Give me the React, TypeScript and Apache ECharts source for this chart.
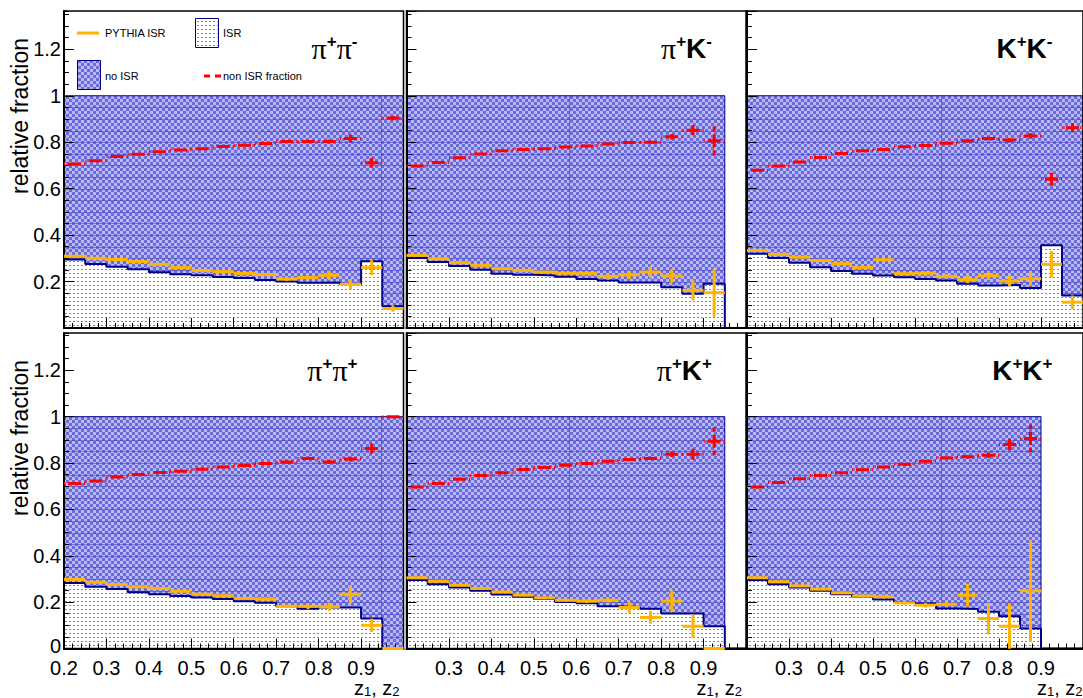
import React, { useEffect, useRef } from 'react';
import * as echarts from 'echarts';

// ---------- binning ----------
const BIN_CENTERS = [0.225, 0.275, 0.325, 0.375, 0.425, 0.475, 0.525, 0.575, 0.625, 0.675, 0.725, 0.775, 0.825, 0.875, 0.925, 0.975];
const BIN_HALF = 0.025;
const X_MIN = 0.2;
const X_MAX = 1.0;
const STACK_TOTAL = 1; // ISR + no ISR = 1
const FILL_LINE_STEP = 0.05; // faint rendering lines seen inside the "no ISR" fill
const FILL_SEAM_X = [0.948, 0.583, 0.661, 0.948, 0.583, 0.661];

// ---------- panel titles ----------
const PANEL_PARTS = [
  ['pi', '+', 'pi', '-'],
  ['pi', '+', 'K', '-'],
  ['K', '+', 'K', '-'],
  ['pi', '+', 'pi', '+'],
  ['pi', '+', 'K', '+'],
  ['K', '+', 'K', '+'],
];

// ---------- pi+ pi- ----------
const isrPiPiM = [0.295, 0.276, 0.264, 0.253, 0.240, 0.231, 0.227, 0.220, 0.215, 0.207, 0.200, 0.195, 0.196, 0.190, 0.287, 0.094];
const pythiaPiPiM = [0.309, 0.300, 0.295, 0.286, 0.274, 0.260, 0.248, 0.243, 0.235, 0.230, 0.211, 0.217, 0.227, 0.188, 0.260, 0.084];
const pythiaErrPiPiM = [0.003, 0.003, 0.003, 0.003, 0.004, 0.004, 0.004, 0.005, 0.006, 0.007, 0.009, 0.010, 0.020, 0.023, 0.032, 0.014];
const nonIsrPiPiM = [0.706, 0.720, 0.738, 0.748, 0.759, 0.767, 0.772, 0.781, 0.787, 0.794, 0.803, 0.803, 0.803, 0.816, 0.712, 0.904];
const nonIsrErrPiPiM = [0.003, 0.003, 0.003, 0.003, 0.003, 0.003, 0.003, 0.004, 0.004, 0.005, 0.006, 0.007, 0.009, 0.017, 0.021, 0.010];

// ---------- pi+ K- ----------
const isrPiKM = [0.301, 0.284, 0.267, 0.251, 0.234, 0.229, 0.226, 0.221, 0.211, 0.205, 0.196, 0.196, 0.176, 0.147, 0.191, 0];
const pythiaPiKM = [0.313, 0.298, 0.281, 0.270, 0.255, 0.248, 0.241, 0.236, 0.236, 0.222, 0.229, 0.241, 0.224, 0.162, 0.152];
const pythiaErrPiKM = [0.003, 0.003, 0.003, 0.004, 0.004, 0.004, 0.005, 0.006, 0.008, 0.014, 0.018, 0.025, 0.029, 0.043, 0.104];
const nonIsrPiKM = [0.698, 0.713, 0.733, 0.749, 0.763, 0.769, 0.772, 0.779, 0.784, 0.792, 0.799, 0.800, 0.823, 0.852, 0.806];
const nonIsrErrPiKM = [0.003, 0.003, 0.003, 0.003, 0.003, 0.003, 0.003, 0.004, 0.004, 0.005, 0.005, 0.006, 0.012, 0.022, 0.063];

// ---------- K+ K- ----------
const isrKKM = [0.320, 0.301, 0.281, 0.262, 0.245, 0.234, 0.226, 0.219, 0.211, 0.205, 0.191, 0.183, 0.185, 0.172, 0.356, 0.140];
const pythiaKKM = [0.334, 0.317, 0.305, 0.291, 0.277, 0.260, 0.294, 0.234, 0.236, 0.222, 0.208, 0.225, 0.202, 0.212, 0.274, 0.111];
const pythiaErrKKM = [0.003, 0.003, 0.004, 0.004, 0.004, 0.005, 0.005, 0.006, 0.008, 0.010, 0.015, 0.018, 0.022, 0.030, 0.057, 0.029];
const nonIsrKKM = [0.679, 0.698, 0.715, 0.734, 0.751, 0.763, 0.769, 0.780, 0.786, 0.795, 0.806, 0.816, 0.809, 0.827, 0.641, 0.862];
const nonIsrErrKKM = [0.003, 0.003, 0.003, 0.003, 0.003, 0.004, 0.004, 0.004, 0.005, 0.005, 0.006, 0.008, 0.009, 0.012, 0.040, 0.020];

// ---------- pi+ pi+ ----------
const isrPiPiP = [0.283, 0.266, 0.257, 0.243, 0.234, 0.227, 0.220, 0.213, 0.204, 0.197, 0.182, 0.172, 0.177, 0.177, 0.129, 0];
const pythiaPiPiP = [0.298, 0.286, 0.276, 0.266, 0.259, 0.247, 0.234, 0.227, 0.216, 0.213, 0.182, 0.182, 0.180, 0.234, 0.100, 0];
const pythiaErrPiPiP = [0.003, 0.003, 0.003, 0.003, 0.004, 0.004, 0.005, 0.005, 0.006, 0.007, 0.008, 0.012, 0.018, 0.040, 0.029, 0];
const nonIsrPiPiP = [0.712, 0.723, 0.740, 0.751, 0.759, 0.765, 0.773, 0.783, 0.789, 0.798, 0.805, 0.820, 0.805, 0.817, 0.863, 1.000];
const nonIsrErrPiPiP = [0.003, 0.003, 0.003, 0.003, 0.003, 0.003, 0.003, 0.004, 0.004, 0.005, 0.006, 0.007, 0.008, 0.010, 0.022, 0.003];

// ---------- pi+ K+ ----------
const isrPiKP = [0.295, 0.277, 0.263, 0.249, 0.233, 0.223, 0.213, 0.201, 0.195, 0.182, 0.179, 0.172, 0.151, 0.151, 0.096, 0];
const pythiaPiKP = [0.305, 0.290, 0.273, 0.259, 0.244, 0.230, 0.218, 0.208, 0.204, 0.208, 0.177, 0.134, 0.204, 0.096, 0];
const pythiaErrPiKP = [0.003, 0.003, 0.003, 0.003, 0.004, 0.004, 0.005, 0.006, 0.008, 0.010, 0.025, 0.027, 0.047, 0.050, 0];
const nonIsrPiKP = [0.697, 0.712, 0.730, 0.746, 0.758, 0.772, 0.781, 0.791, 0.798, 0.808, 0.815, 0.820, 0.838, 0.838, 0.894];
const nonIsrErrPiKP = [0.003, 0.003, 0.003, 0.003, 0.003, 0.003, 0.004, 0.004, 0.004, 0.005, 0.006, 0.007, 0.012, 0.024, 0.060];

// ---------- K+ K+ ----------
const isrKKP = [0.295, 0.277, 0.263, 0.249, 0.234, 0.223, 0.211, 0.201, 0.194, 0.173, 0.170, 0.158, 0.139, 0.086, 0, 0];
const pythiaKKP = [0.305, 0.288, 0.270, 0.256, 0.240, 0.226, 0.223, 0.197, 0.187, 0.191, 0.230, 0.129, 0.096, 0.249];
const pythiaErrKKP = [0.003, 0.003, 0.003, 0.004, 0.005, 0.006, 0.007, 0.008, 0.010, 0.012, 0.049, 0.068, 0.097, 0.220];
const nonIsrKKP = [0.697, 0.716, 0.732, 0.746, 0.758, 0.771, 0.783, 0.795, 0.808, 0.822, 0.827, 0.834, 0.880, 0.906];
const nonIsrErrKKP = [0.003, 0.003, 0.003, 0.003, 0.003, 0.004, 0.004, 0.005, 0.005, 0.006, 0.007, 0.012, 0.024, 0.060];

const PANELS = [
  { isr: isrPiPiM, pythia: pythiaPiPiM, pythiaErr: pythiaErrPiPiM, nonIsr: nonIsrPiPiM, nonIsrErr: nonIsrErrPiPiM },
  { isr: isrPiKM, pythia: pythiaPiKM, pythiaErr: pythiaErrPiKM, nonIsr: nonIsrPiKM, nonIsrErr: nonIsrErrPiKM },
  { isr: isrKKM, pythia: pythiaKKM, pythiaErr: pythiaErrKKM, nonIsr: nonIsrKKM, nonIsrErr: nonIsrErrKKM },
  { isr: isrPiPiP, pythia: pythiaPiPiP, pythiaErr: pythiaErrPiPiP, nonIsr: nonIsrPiPiP, nonIsrErr: nonIsrErrPiPiP },
  { isr: isrPiKP, pythia: pythiaPiKP, pythiaErr: pythiaErrPiKP, nonIsr: nonIsrPiKP, nonIsrErr: nonIsrErrPiKP },
  { isr: isrKKP, pythia: pythiaKKP, pythiaErr: pythiaErrKKP, nonIsr: nonIsrKKP, nonIsrErr: nonIsrErrKKP },
];

// ---------- layout / style ----------
const COL_LEFT = [64, 406.5, 747];
const COL_WIDTH = 339.5;
const ROW_TOP = [11, 333];
const ROW_HEIGHT = [317, 315.5];
const Y_MAX = [1.365, 1.361];
const LABEL_RIGHT_INSET = [46, 40, 40];
const FONT = 'Liberation Sans, Arial, sans-serif';
const NAVY = '#00008c';
const ORANGE = '#ffb400';
const RED = '#ff0000';
const CHECK_DARK = '#6a6ad9';
const CHECK_LIGHT = '#b9b9ef';
const DOT = '#7a7aff';
const FILL_LINE = 'rgba(60,60,200,0.55)';

function makeChecker() {
  const c = document.createElement('canvas');
  c.width = 6; c.height = 6;
  const g = c.getContext('2d')!;
  g.fillStyle = CHECK_LIGHT; g.fillRect(0, 0, 6, 6);
  g.fillStyle = CHECK_DARK; g.fillRect(0, 0, 3, 3); g.fillRect(3, 3, 3, 3);
  return { image: c, repeat: 'repeat', imageWidth: 6, imageHeight: 6 };
}
function makeDots() {
  const c = document.createElement('canvas');
  c.width = 4; c.height = 4;
  const g = c.getContext('2d')!;
  g.fillStyle = '#ffffff'; g.fillRect(0, 0, 4, 4);
  g.fillStyle = DOT; g.fillRect(1, 1, 2, 1);
  return { image: c, repeat: 'repeat', imageWidth: 4, imageHeight: 4 };
}

export default function App() {
  const ref = useRef<HTMLDivElement>(null);
  useEffect(() => {
    const chart = echarts.init(ref.current!, null, { renderer: 'svg' });
    const checker = makeChecker();
    const dots = makeDots();

    const grids: any[] = [];
    const xAxes: any[] = [];
    const yAxes: any[] = [];
    const series: any[] = [];
    const graphics: any[] = [];

    PANELS.forEach((pd, p) => {
      const row = Math.floor(p / 3);
      const col = p % 3;
      grids.push({
        left: COL_LEFT[col], top: ROW_TOP[row], width: COL_WIDTH, height: ROW_HEIGHT[row],
        show: true, borderColor: '#000', borderWidth: 1.5, backgroundColor: 'transparent', z: 5,
      });
      const bottomRow = row === 1;
      xAxes.push({
        gridIndex: p, type: 'value', min: X_MIN, max: X_MAX, interval: 0.1, position: 'bottom', z: 5,
        axisLine: { show: true, onZero: false, lineStyle: { color: '#000', width: 2 } },
        axisTick: { show: true, inside: true, length: 10, lineStyle: { color: '#000', width: 1 } },
        axisLabel: {
          show: bottomRow, margin: 11, color: '#000', fontFamily: FONT, fontSize: 20, lineHeight: 16,
          showMinLabel: col === 0, showMaxLabel: false,
        },
        splitLine: { show: false },
      });
      xAxes.push({
        gridIndex: p, type: 'value', min: X_MIN, max: X_MAX, interval: 0.02, position: 'bottom', z: 5,
        axisLine: { show: false, onZero: false },
        axisTick: { show: true, inside: true, length: 5, lineStyle: { color: '#000', width: 1 } },
        axisLabel: { show: false },
        splitLine: { show: false },
      });
      yAxes.push({
        gridIndex: p, type: 'value', min: 0, max: Y_MAX[row], interval: 0.2, position: 'left', z: 5,
        axisLine: { show: true, onZero: false, lineStyle: { color: '#000', width: 2 } },
        axisTick: { show: true, inside: true, length: 10, lineStyle: { color: '#000', width: 1 } },
        axisLabel: {
          show: col === 0, margin: 3, color: '#000', fontFamily: FONT, fontSize: 20, lineHeight: 15,
          showMinLabel: row === 1, showMaxLabel: false,
          formatter: (v: number) => (v === 0 ? '{lift|0}' : String(+v.toFixed(2))),
          rich: { lift: { fontFamily: FONT, fontSize: 20, color: '#000', lineHeight: 14, padding: [0, 0, 6, 0] } },
        },
        splitLine: { show: false },
      });
      yAxes.push({
        gridIndex: p, type: 'value', min: 0, max: Y_MAX[row], interval: 0.05, position: 'left', z: 5,
        axisLine: { show: false, onZero: false },
        axisTick: { show: true, inside: true, length: 5, lineStyle: { color: '#000', width: 1 } },
        axisLabel: { show: false },
        splitLine: { show: false },
      });
      const xi = p * 2;
      const yi = p * 2;

      // no ISR (stack total) histogram
      const nFilled = pd.nonIsr.length;
      const totalData: number[][] = [];
      for (let k = 0; k < nFilled; k++) totalData.push([BIN_CENTERS[k] - BIN_HALF, STACK_TOTAL]);
      totalData.push([BIN_CENTERS[nFilled - 1] + BIN_HALF, STACK_TOTAL]);
      totalData.push([BIN_CENTERS[nFilled - 1] + BIN_HALF, 0]);
      series.push({
        type: 'line', xAxisIndex: xi, yAxisIndex: yi, step: 'end', symbol: 'none', z: 1, silent: true,
        data: totalData, lineStyle: { color: NAVY, width: 1 }, areaStyle: { color: checker, opacity: 1 },
      });

      // faint rendering lines inside the "no ISR" fill
      series.push({
        type: 'custom', xAxisIndex: xi, yAxisIndex: yi, z: 1.5, silent: true,
        data: pd.nonIsr.map((_, k) => [BIN_CENTERS[k], pd.isr[k]]),
        renderItem: (params: any, api: any) => {
          const xc = api.value(0), v = api.value(1);
          const children: any[] = [];
          for (let yv = FILL_LINE_STEP; yv < STACK_TOTAL - 1e-6; yv += FILL_LINE_STEP) {
            if (yv <= v + 0.004) continue;
            const a = api.coord([xc - BIN_HALF, yv]);
            const b = api.coord([xc + BIN_HALF, yv]);
            children.push({ type: 'line', shape: { x1: a[0], y1: Math.round(a[1]) + 0.5, x2: b[0], y2: Math.round(b[1]) + 0.5 }, style: { stroke: FILL_LINE, lineWidth: 1 } });
          }
          const sx = FILL_SEAM_X[p];
          if (sx > xc - BIN_HALF && sx <= xc + BIN_HALF) {
            const t = api.coord([sx, STACK_TOTAL]);
            const b = api.coord([sx, v]);
            children.push({ type: 'line', shape: { x1: Math.round(t[0]) + 0.5, y1: t[1], x2: Math.round(b[0]) + 0.5, y2: b[1] }, style: { stroke: FILL_LINE, lineWidth: 1 } });
          }
          return { type: 'group', children };
        },
      });

      // ISR histogram
      const isrData: number[][] = pd.isr.map((v, k) => [BIN_CENTERS[k] - BIN_HALF, v]);
      isrData.push([BIN_CENTERS[pd.isr.length - 1] + BIN_HALF, pd.isr[pd.isr.length - 1]]);
      series.push({
        type: 'line', xAxisIndex: xi, yAxisIndex: yi, step: 'end', symbol: 'none', z: 2, silent: true,
        data: isrData, lineStyle: { color: NAVY, width: 2 }, areaStyle: { color: dots, opacity: 1 },
      });

      // PYTHIA ISR crosses
      series.push({
        type: 'custom', xAxisIndex: xi, yAxisIndex: yi, z: 6, silent: true,
        data: pd.pythia.map((v, k) => [BIN_CENTERS[k], v, pd.pythiaErr[k]]),
        renderItem: (params: any, api: any) => {
          const xc = api.value(0), v = api.value(1), e = api.value(2);
          const l = api.coord([xc - BIN_HALF, v]);
          const r = api.coord([xc + BIN_HALF, v]);
          const children: any[] = [
            { type: 'line', shape: { x1: l[0], y1: l[1], x2: r[0], y2: r[1] }, style: { stroke: ORANGE, lineWidth: 3 } },
          ];
          if (e > 0) {
            const t = api.coord([xc, v + e]);
            const b = api.coord([xc, v - e]);
            children.push({ type: 'line', shape: { x1: t[0], y1: t[1], x2: b[0], y2: b[1] }, style: { stroke: ORANGE, lineWidth: 3 } });
          }
          return { type: 'group', children };
        },
      });

      // non ISR fraction (dashed crosses)
      series.push({
        type: 'custom', xAxisIndex: xi, yAxisIndex: yi, z: 7, silent: true,
        data: pd.nonIsr.map((v, k) => [BIN_CENTERS[k], v, pd.nonIsrErr[k]]),
        renderItem: (params: any, api: any) => {
          const xc = api.value(0), v = api.value(1), e = api.value(2);
          const c = api.coord([xc, v]);
          const pts = [api.coord([xc - BIN_HALF, v]), api.coord([xc + BIN_HALF, v]), api.coord([xc, v + e]), api.coord([xc, v - e])];
          const children = pts.map((q: number[]) => ({
            type: 'line', shape: { x1: c[0], y1: c[1], x2: q[0], y2: q[1] },
            style: { stroke: RED, lineWidth: 3, lineDash: [6.5, 3] },
          }));
          return { type: 'group', children };
        },
      });

      // panel label
      const parts = PANEL_PARTS[p];
      const txt = parts.map((s, i) => (i % 2 === 0 ? (s === 'pi' ? '{pi|π}' : '{K|K}') : `{sup|${s}}`)).join('');
      graphics.push({
        type: 'text', z: 20,
        x: COL_LEFT[col] + COL_WIDTH - LABEL_RIGHT_INSET[col] + (parts[2] === 'pi' ? 0 : 6), y: ROW_TOP[row] + 37,
        style: {
          text: txt, align: 'right', verticalAlign: 'middle', fill: '#000',
          rich: {
            pi: { fontFamily: 'Liberation Serif, serif', fontSize: 30, fill: '#000', lineHeight: 30 },
            K: { fontFamily: FONT, fontWeight: 'bold', fontSize: 28, fill: '#000', lineHeight: 30 },
            sup: { fontFamily: FONT, fontWeight: 'bold', fontSize: 17, fill: '#000', verticalAlign: 'top', lineHeight: 30, padding: [0, 0, 12, 0] },
          },
        },
      });

      if (bottomRow) {
        graphics.push({
          type: 'text', z: 20,
          x: COL_LEFT[col] + COL_WIDTH - 4, y: 688,
          style: {
            text: '{z|z}{s|1}{z|, z}{s|2}', align: 'right', verticalAlign: 'middle',
            rich: {
              z: { fontFamily: FONT, fontSize: 20, fill: '#000', lineHeight: 20 },
              s: { fontFamily: FONT, fontSize: 13, fill: '#000', verticalAlign: 'bottom', lineHeight: 12, padding: [9, 0, 0, 0] },
            },
          },
        });
      }
    });

    // y-axis titles
    [116, 438].forEach((cy) => {
      graphics.push({
        type: 'text', z: 20, x: 20, y: cy, rotation: Math.PI / 2,
        style: { text: 'relative fraction', fontFamily: FONT, fontSize: 23, fill: '#000', align: 'center', verticalAlign: 'middle' },
      });
    });

    // legend (top-left panel)
    graphics.push(
      { type: 'line', z: 20, shape: { x1: 77, y1: 33, x2: 99, y2: 33 }, style: { stroke: ORANGE, lineWidth: 3 } },
      { type: 'text', z: 20, x: 105, y: 33, style: { text: 'PYTHIA ISR', fontFamily: FONT, fontSize: 11, fill: '#000', verticalAlign: 'middle' } },
      { type: 'rect', z: 20, shape: { x: 195.5, y: 18.5, width: 23, height: 29 }, style: { fill: dots, stroke: NAVY, lineWidth: 1 } },
      { type: 'text', z: 20, x: 223, y: 33, style: { text: 'ISR', fontFamily: FONT, fontSize: 11, fill: '#000', verticalAlign: 'middle' } },
      { type: 'rect', z: 20, shape: { x: 77.5, y: 60.5, width: 23, height: 29 }, style: { fill: checker, stroke: NAVY, lineWidth: 1 } },
      { type: 'text', z: 20, x: 105, y: 76, style: { text: 'no ISR', fontFamily: FONT, fontSize: 11, fill: '#000', verticalAlign: 'middle' } },
      { type: 'line', z: 20, shape: { x1: 204, y1: 76, x2: 222, y2: 76 }, style: { stroke: RED, lineWidth: 3, lineDash: [6, 5] } },
      { type: 'text', z: 20, x: 223, y: 76, style: { text: 'non ISR fraction', fontFamily: FONT, fontSize: 11, fill: '#000', verticalAlign: 'middle' } },
    );

    chart.setOption({
      animation: false,
      backgroundColor: '#ffffff',
      grid: grids,
      xAxis: xAxes,
      yAxis: yAxes,
      series,
      graphic: { elements: graphics },
    });
    return () => chart.dispose();
  }, []);
  return <div ref={ref} style={{ position: 'absolute', left: 0, top: 0, width: 1083, height: 698, background: '#fff' }} />;
}
